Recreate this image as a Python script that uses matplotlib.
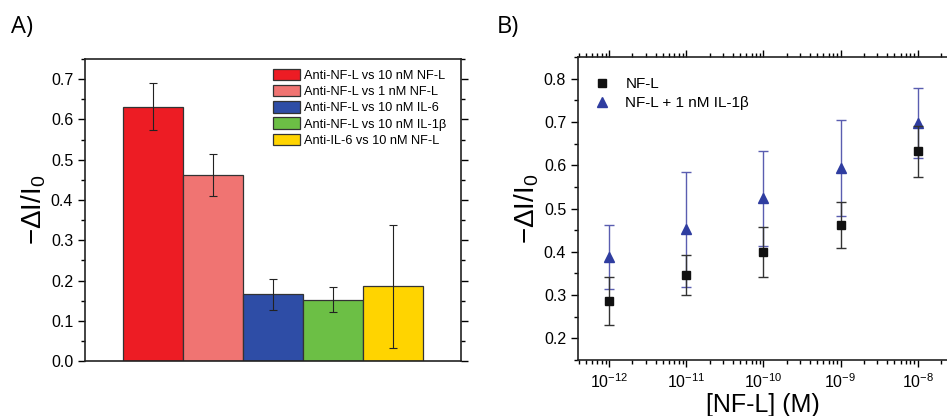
import numpy as np
import matplotlib
matplotlib.use("Agg")
import matplotlib.pyplot as plt
from matplotlib.lines import Line2D
from matplotlib.ticker import MultipleLocator, LogLocator, NullFormatter

plt.rcParams['font.family'] = ['Liberation Sans', 'DejaVu Sans']
plt.rcParams['mathtext.fontset'] = 'custom'
plt.rcParams['mathtext.rm'] = 'Liberation Sans'
plt.rcParams['mathtext.it'] = 'Liberation Sans:italic'
plt.rcParams['mathtext.default'] = 'regular'

# panel A data
bar_labels = ['Anti-NF-L vs 10 nM NF-L', 'Anti-NF-L vs 1 nM NF-L', 'Anti-NF-L vs 10 nM IL-6',
              'Anti-NF-L vs 10 nM IL-1β', 'Anti-IL-6 vs 10 nM NF-L']
bar_values = [0.632, 0.462, 0.166, 0.152, 0.186]
bar_errors = [0.058, 0.053, 0.038, 0.031, 0.153]
bar_colors = ['#ED1C24', '#F07472', '#2E4DA6', '#6CBF45', '#FFD400']

# panel B data
conc = [1e-12, 1e-11, 1e-10, 1e-9, 1e-8]
nfl = [0.287, 0.347, 0.400, 0.462, 0.632]
nfl_err = [0.055, 0.046, 0.057, 0.053, 0.058]
nfl_il = [0.387, 0.452, 0.524, 0.594, 0.697]
nfl_il_err = [0.074, 0.133, 0.110, 0.110, 0.081]

fig = plt.figure(figsize=(9.47, 4.16), dpi=100)

# --- A ---
axA = fig.add_axes([0.0898, 0.132, 0.397, 0.726])
x = np.arange(len(bar_values))
for i in range(len(bar_values)):
    axA.bar(x[i], bar_values[i], width=1.0, color=bar_colors[i], edgecolor='#333333',
            linewidth=0.9, label=bar_labels[i], zorder=2)
axA.errorbar(x, bar_values, yerr=bar_errors, fmt='none', ecolor='#222222',
             elinewidth=0.8, capsize=3, capthick=0.8, zorder=3)
axA.set_xlim(-1.13, 5.13)
axA.set_ylim(0, 0.75)
axA.yaxis.set_major_locator(MultipleLocator(0.1))
axA.yaxis.set_minor_locator(MultipleLocator(0.05))
axA.set_xticks([])
axA.tick_params(axis='y', which='both', direction='out', right=True, labelsize=11.5,
                width=1.0)
axA.tick_params(axis='y', which='major', length=5)
axA.tick_params(axis='y', which='minor', length=3)
axA.set_ylabel(r'$-\Delta I/I_0$', fontsize=20, labelpad=2)
for s in axA.spines.values():
    s.set_linewidth(1.2)
    s.set_color('#222222')
axA.legend(loc='upper right', fontsize=9.2, frameon=False, handlelength=2.1,
           handleheight=1.0, labelspacing=0.25, handletextpad=0.3,
           borderaxespad=0.3, bbox_to_anchor=(0.985, 0.998))
fig.text(0.012, 0.92, 'A)', fontsize=17, family=['Open Sans', 'DejaVu Sans'])

# --- B ---
axB = fig.add_axes([0.6103, 0.1346, 0.3913, 0.728])
axB.errorbar(conc, nfl_il, yerr=nfl_il_err, fmt='^', color='#2F3DA0', markersize=7,
             ecolor='#5A5DB0', elinewidth=1.0, capsize=3.5, capthick=1.0, zorder=2)
axB.errorbar(conc, nfl, yerr=nfl_err, fmt='s', color='#111111', markersize=6,
             ecolor='#333333', elinewidth=1.0, capsize=3.5, capthick=1.0, zorder=3)
axB.set_xscale('log')
axB.set_xlim(10 ** -12.406, 10 ** -7.6)
axB.set_ylim(0.15, 0.85)
axB.yaxis.set_major_locator(MultipleLocator(0.1))
axB.yaxis.set_minor_locator(MultipleLocator(0.05))
axB.xaxis.set_major_locator(LogLocator(base=10, numticks=20))
axB.xaxis.set_minor_locator(LogLocator(base=10, subs=np.arange(2, 10), numticks=20))
axB.xaxis.set_minor_formatter(NullFormatter())
axB.tick_params(axis='both', which='both', direction='out', top=True, right=True,
                labelsize=11.5, width=1.0)
axB.tick_params(axis='both', which='major', length=5)
axB.tick_params(axis='both', which='minor', length=3)
axB.set_ylabel(r'$-\Delta I/I_0$', fontsize=20, labelpad=2)
axB.set_xlabel('[NF-L] (M)', fontsize=18, labelpad=2)
for s in axB.spines.values():
    s.set_linewidth(1.2)
    s.set_color('#222222')
handles = [Line2D([], [], marker='s', color='#111111', linestyle='none', markersize=6),
           Line2D([], [], marker='^', color='#2F3DA0', linestyle='none', markersize=7)]
axB.legend(handles, ['NF-L', 'NF-L + 1 nM IL-1β'], loc='upper left', fontsize=11,
           frameon=False, handlelength=1.5, labelspacing=0.35, handletextpad=0.8,
           borderaxespad=0.4, bbox_to_anchor=(0.0, 0.975))
fig.text(0.525, 0.92, 'B)', fontsize=17, family=['Open Sans', 'DejaVu Sans'])

fig.savefig('out.png', dpi=100)
